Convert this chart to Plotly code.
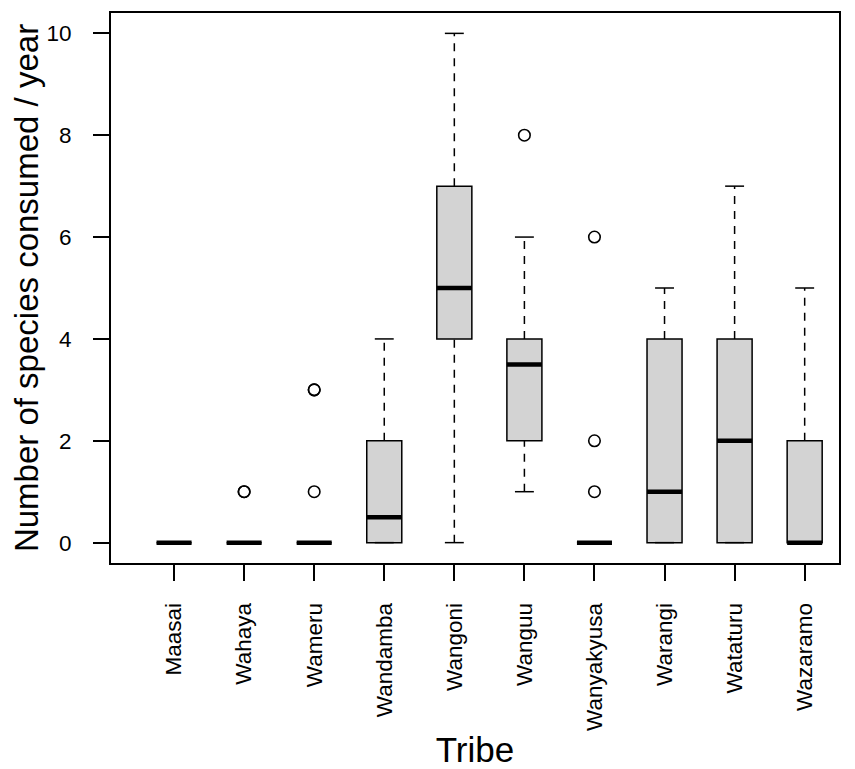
import plotly.graph_objects as go

tribes = ["Maasai", "Wahaya", "Wameru", "Wandamba", "Wangoni",
          "Wanguu", "Wanyakyusa", "Warangi", "Wataturu", "Wazaramo"]
positions = list(range(1, len(tribes) + 1))

q1 = [0, 0, 0, 0, 4, 2, 0, 0, 0, 0]
median = [0, 0, 0, 0.5, 5, 3.5, 0, 1, 2, 0]
q3 = [0, 0, 0, 2, 7, 4, 0, 4, 4, 2]
lower_whisker = [0, 0, 0, 0, 0, 1, 0, 0, 0, 0]
upper_whisker = [0, 0, 0, 4, 10, 6, 0, 5, 7, 5]

outlier_x = [2, 2, 3, 3, 3, 6, 7, 7, 7]
outlier_y = [1, 1, 1, 3, 3, 8, 1, 2, 6]

y_ticks = [0, 2, 4, 6, 8, 10]

BOX_HALF = 0.25
CAP_HALF = 0.135
FONT = "Liberation Sans, Arial, Helvetica, sans-serif"

fig = go.Figure()

fig.add_trace(go.Box(
    x=positions, q1=q1, median=median, q3=q3,
    lowerfence=q1, upperfence=q3,
    width=2 * BOX_HALF, fillcolor="#d3d3d3",
    line=dict(color="black", width=1.5),
    boxpoints=False, showlegend=False, hoverinfo="skip",
))

wx, wy = [], []
for p, a, b, lo, hi in zip(positions, q1, q3, lower_whisker, upper_whisker):
    if hi > b:
        wx += [p, p, None]
        wy += [b, hi, None]
    if lo < a:
        wx += [p, p, None]
        wy += [lo, a, None]
fig.add_trace(go.Scatter(x=wx, y=wy, mode="lines",
                         line=dict(color="black", width=1.5, dash="8px,7px"),
                         showlegend=False, hoverinfo="skip"))

cx, cy = [], []
for p, lo, hi in zip(positions, lower_whisker, upper_whisker):
    for v in (lo, hi):
        cx += [p - CAP_HALF, p + CAP_HALF, None]
        cy += [v, v, None]
fig.add_trace(go.Scatter(x=cx, y=cy, mode="lines",
                         line=dict(color="black", width=1.5),
                         showlegend=False, hoverinfo="skip"))

mx, my = [], []
for p, m in zip(positions, median):
    mx += [p - BOX_HALF, p + BOX_HALF, None]
    my += [m, m, None]
fig.add_trace(go.Scatter(x=mx, y=my, mode="lines",
                         line=dict(color="black", width=4.5),
                         showlegend=False, hoverinfo="skip"))

fig.add_trace(go.Scatter(x=outlier_x, y=outlier_y, mode="markers",
                         marker=dict(symbol="circle-open", size=11.5,
                                     color="black", line=dict(width=1.6)),
                         showlegend=False, hoverinfo="skip"))

fig.update_layout(
    width=855, height=769,
    margin=dict(l=103, r=24, t=5, b=214, autoexpand=False),
    paper_bgcolor="white", plot_bgcolor="white",
    font=dict(family=FONT, color="black", size=22),
)
fig.update_xaxes(
    range=[0.1, 10.49], tickmode="array", tickvals=positions, ticktext=tribes,
    tickangle=-90, ticks="outside", ticklen=16, tickwidth=1.5, tickcolor="black",
    ticklabelstandoff=13, automargin=False,
    showline=True, linecolor="black", linewidth=2, mirror=True,
    showgrid=False, zeroline=False,
    tickfont=dict(family=FONT, size=22.5, color="black"),
    title=dict(text="Tribe", font=dict(size=35), standoff=8),
)
fig.update_yaxes(
    range=[-0.4, 10.4], tickmode="array", tickvals=y_ticks,
    ticks="outside", ticklen=16, tickwidth=1.5, tickcolor="black",
    ticklabelstandoff=17, automargin=False,
    showline=True, linecolor="black", linewidth=2, mirror=True,
    showgrid=False, zeroline=False,
    tickfont=dict(family=FONT, size=22.5, color="black"),
    title=dict(text="Number of species consumed / year", font=dict(size=33), standoff=12),
)

fig.write_html("out.html")
